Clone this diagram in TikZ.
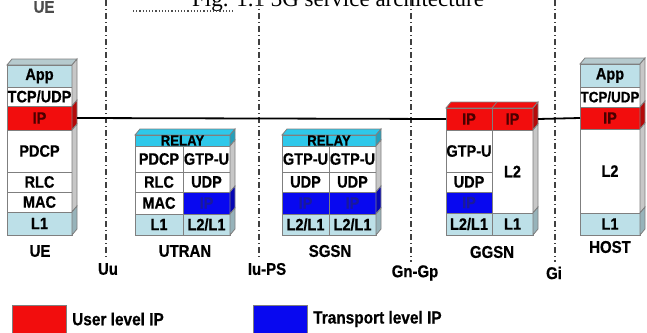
\documentclass[tikz,border=0pt]{standalone}
\usepackage{fontspec}
\newfontfamily\labf{Liberation Sans}[FakeStretch=0.88,FakeBold=0.6]
\newfontfamily\figf{Liberation Serif}
\definecolor{lb}{HTML}{BDE0E8}
\definecolor{cy}{HTML}{2EC8EA}
\definecolor{rd}{HTML}{F20D0D}
\definecolor{bl}{HTML}{0808F0}
\definecolor{edge}{HTML}{7F7F7F}
\definecolor{ipdark}{HTML}{4A0000}
\definecolor{ipblue}{HTML}{1A1A9A}
\tikzset{
  cellst/.style={draw=edge, line width=0.8pt, inner sep=0pt, outer sep=0pt},
  lbl/.style={font=\labf\bfseries\fontsize{16.5}{16.5}\selectfont, inner sep=0pt},
  nlbl/.style={font=\labf\bfseries\fontsize{17}{17}\selectfont, inner sep=0pt},
  leglbl/.style={font=\labf\bfseries\fontsize{17.5}{17.5}\selectfont, inner sep=0pt},
  iface/.style={draw=black!75, line width=1.6pt, dash pattern=on 6pt off 3pt on 1pt off 3pt},
  conn/.style={draw=black, line width=1.8pt},
  legbox/.style={draw=edge, line width=0.8pt, minimum width=54pt, minimum height=28pt, anchor=north west},
}
\newcommand\cellb[7]{\node[cellst, lbl, fill=#6, minimum width={(#4-#2)*1pt}, minimum height={(#5-#3)*1pt}, anchor=north west] (#1) at (#2,#3) {#7};}
\newcommand\sidef[4]{\filldraw[cellst, fill=#4] (#1,#2) -- ({#1+5},{#2-6}) -- ({#1+5},{#3-6}) -- (#1,#3) -- cycle;}
\newcommand\topf[4]{\filldraw[cellst, fill=#4] (#1,#3) -- ({#1+5},{#3-6}) -- ({#2+5},{#3-6}) -- (#2,#3) -- cycle;}
\begin{document}
\begin{tikzpicture}[x=1pt,y=-1pt]
\useasboundingbox (0,0) rectangle (647,332);
\clip (0,0) rectangle (647,332);

% caption remnants at top
\node[font=\figf\fontsize{23}{23}\selectfont, anchor=base west, inner sep=0pt] (figcap) at (192,6) {Fig. 1.1 3G service architecture};
\node[nlbl, text=black!70] (uetop) at (44,7) {UE};
\coordinate (dotA) at (133,11);
\coordinate (dotB) at (235,11);
\draw[black!70, line width=1.2pt, dotted] (dotA) -- (dotB);

% interface lines
\coordinate (uuT) at (106,0);   \coordinate (uuB) at (106,258);
\coordinate (iuT) at (259,0);   \coordinate (iuB) at (259,258);
\coordinate (gnT) at (411,0);   \coordinate (gnB) at (411,262);
\coordinate (giT) at (555,0);   \coordinate (giB) at (555,262);
\draw[iface] (uuT) -- (uuB);
\draw[iface] (iuT) -- (iuB);
\draw[iface] (gnT) -- (gnB);
\draw[iface] (giT) -- (giB);
\node[nlbl] (uu) at (108,269) {Uu};
\node[nlbl] (iups) at (267,269) {Iu-PS};
\node[nlbl] (gngp) at (415,273) {Gn-Gp};
\node[nlbl] (gi) at (554,273) {Gi};

% UE
\topf{7}{72}{65}{lb!80!black!70}
\cellb{ueapp}{7}{65}{72}{87}{lb}{App}
\cellb{uetcp}{7}{87}{72}{106}{white}{TCP/UDP}
\cellb{ueip}{7}{106}{72}{130}{rd}{\textcolor{ipdark}{IP}}
\cellb{uepdcp}{7}{130}{72}{172}{white}{PDCP}
\cellb{uerlc}{7}{172}{72}{192}{white}{RLC}
\cellb{uemac}{7}{192}{72}{212}{white}{MAC}
\cellb{uel1}{7}{212}{72}{235}{lb}{L1}
\sidef{72}{65}{106}{black!22}
\sidef{72}{106}{130}{rd!75!black}
\sidef{72}{130}{212}{black!22}
\sidef{72}{212}{235}{lb!80!black}
\node[nlbl] (uelab) at (40,251) {UE};

% UTRAN
\topf{135}{230}{135}{cy}
\cellb{utrelay}{135}{135}{230}{146}{cy}{\fontsize{15}{15}\selectfont RELAY}
\cellb{utpdcp}{135}{146}{183}{172}{white}{PDCP}
\cellb{utgtp}{183}{146}{230}{172}{white}{GTP-U}
\cellb{utrlc}{135}{172}{183}{192}{white}{RLC}
\cellb{utudp}{183}{172}{230}{192}{white}{UDP}
\cellb{utmac}{135}{192}{183}{214}{white}{MAC}
\cellb{utip}{183}{192}{230}{214}{bl}{\textcolor{ipblue}{IP}}
\cellb{utl1}{135}{214}{183}{235}{lb}{L1}
\cellb{utl2}{183}{214}{230}{235}{lb}{L2/L1}
\sidef{230}{135}{146}{cy!80!black}
\sidef{230}{146}{192}{black!22}
\sidef{230}{192}{214}{bl!75!black}
\sidef{230}{214}{235}{lb!80!black}
\node[nlbl] (utlab) at (185,251) {UTRAN};

% SGSN
\topf{282}{376}{135}{cy}
\cellb{sgrelay}{282}{135}{376}{146}{cy}{\fontsize{15}{15}\selectfont RELAY}
\cellb{sggtpa}{282}{146}{329}{172}{white}{GTP-U}
\cellb{sggtpb}{329}{146}{376}{172}{white}{GTP-U}
\cellb{sgudpa}{282}{172}{329}{192}{white}{UDP}
\cellb{sgudpb}{329}{172}{376}{192}{white}{UDP}
\cellb{sgipa}{282}{192}{329}{214}{bl}{\textcolor{ipblue}{IP}}
\cellb{sgipb}{329}{192}{376}{214}{bl}{\textcolor{ipblue}{IP}}
\cellb{sgl2a}{282}{214}{329}{235}{lb}{L2/L1}
\cellb{sgl2b}{329}{214}{376}{235}{lb}{L2/L1}
\sidef{376}{135}{146}{cy!80!black}
\sidef{376}{146}{192}{black!22}
\sidef{376}{192}{214}{bl!75!black}
\sidef{376}{214}{235}{lb!80!black}
\node[nlbl] (sglab) at (330,251) {SGSN};

% GGSN
\topf{446}{533}{108}{rd}
\cellb{ggipL}{446}{108}{492}{130}{rd}{\textcolor{ipdark}{IP}}
\cellb{ggipR}{492}{108}{533}{130}{rd}{\textcolor{ipdark}{IP}}
\cellb{gggtp}{446}{130}{492}{172}{white}{GTP-U}
\cellb{ggudp}{446}{172}{492}{192}{white}{UDP}
\cellb{ggipb}{446}{192}{492}{213}{bl}{\textcolor{ipblue}{IP}}
\cellb{ggl2l1}{446}{213}{492}{235}{lb}{L2/L1}
\cellb{ggl2}{492}{130}{533}{213}{white}{L2}
\cellb{ggl1}{492}{213}{533}{235}{lb}{L1}
\draw[edge, line width=0.8pt] (492,108) -- (497,102);
\sidef{533}{108}{130}{rd!75!black}
\sidef{533}{130}{213}{black!22}
\sidef{533}{213}{235}{lb!80!black}
\node[nlbl] (gglab) at (492,252) {GGSN};

% HOST
\topf{580}{640}{64}{lb!80!black!70}
\cellb{hoapp}{580}{64}{640}{87}{lb}{App}
\cellb{hotcp}{580}{87}{640}{107}{white}{\fontsize{15.2}{15.2}\selectfont TCP/UDP}
\cellb{hoip}{580}{107}{640}{129}{rd}{\textcolor{ipdark}{IP}}
\cellb{hol2}{580}{129}{640}{213}{white}{L2}
\cellb{hol1}{580}{213}{640}{235}{lb}{L1}
\sidef{640}{64}{107}{black!22}
\sidef{640}{107}{129}{rd!75!black}
\sidef{640}{129}{213}{black!22}
\sidef{640}{213}{235}{lb!80!black}
\node[nlbl] (holab) at (610,247) {HOST};

% user-plane IP line
\draw[conn] ([xshift=5pt]ueip.east) -- (ggipL.west);
\draw[conn] ([xshift=5pt]ggipR.east) -- (hoip.west);

% legend
\node[legbox, fill=rd] (legr) at (12,305) {};
\node[leglbl, anchor=west] (legrt) at (72,319) {User level IP};
\node[legbox, fill=bl] (legb) at (253,305) {};
\node[leglbl, anchor=west] (legbt) at (313,319) {Transport level IP};
\end{tikzpicture}
\end{document}
